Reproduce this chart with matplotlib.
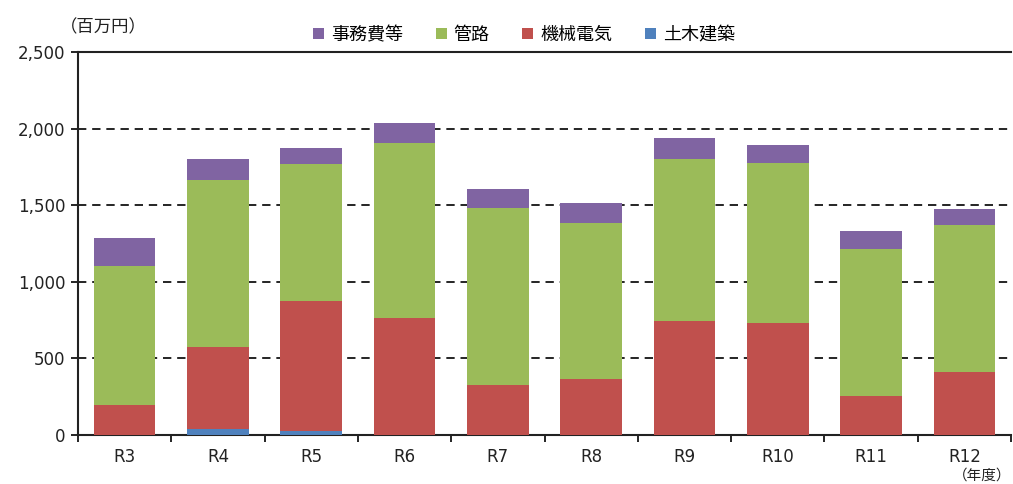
import matplotlib
matplotlib.use("Agg")
import matplotlib.pyplot as plt
import numpy as np

plt.rcParams['font.family'] = ['DejaVu Sans', 'Noto Sans CJK JP']

years = ["R3", "R4", "R5", "R6", "R7", "R8", "R9", "R10", "R11", "R12"]
civil = [0, 40, 25, 0, 0, 0, 0, 0, 0, 0]                          # 土木建築
mech_elec = [196, 537, 850, 766, 324, 364, 746, 729, 255, 413]    # 機械電気
pipes = [907, 1088, 894, 1138, 1156, 1022, 1054, 1044, 959, 960]  # 管路
office = [185, 135, 106, 135, 126, 128, 137, 122, 117, 100]       # 事務費等
yticks = [0, 500, 1000, 1500, 2000, 2500]

series = [
    ("土木建築", civil, "#4F81BD"),
    ("機械電気", mech_elec, "#C0504D"),
    ("管路", pipes, "#9BBB59"),
    ("事務費等", office, "#8064A2"),
]

fig = plt.figure(figsize=(10.13, 4.84), dpi=100)
ax = fig.add_axes([78/1013, 1-435/484, (1011-78)/1013, (435-52)/484])

x = np.arange(len(years)) + 0.5
bottom = np.zeros(len(years))
handles = {}
for name, vals, color in series:
    v = np.array(vals, dtype=float)
    h = ax.bar(x, v, width=0.66, bottom=bottom, color=color, zorder=3, label=name)
    handles[name] = h
    bottom += v

ax.set_xlim(0, len(years))
ax.set_ylim(0, 2500)
ax.set_yticks(yticks)
ax.set_yticklabels([f"{t:,}" for t in yticks], fontsize=12, color="#222222")
for t in yticks[1:-1]:
    ax.axhline(t, color="black", linestyle=(0, (5, 3.5)), linewidth=1.2, zorder=1)

ax.set_xticks(x)
ax.set_xticklabels(years, fontsize=12, color="#222222")
ax.tick_params(axis="x", which="major", length=0, pad=9)
ax.set_xticks(np.arange(0, len(years) + 1), minor=True)
ax.tick_params(axis="x", which="minor", length=5, width=1.2, direction="out")
ax.tick_params(axis="y", length=5, width=1.2, direction="out", pad=4)

for s in ["left", "bottom", "top"]:
    ax.spines[s].set_color("#222222")
    ax.spines[s].set_linewidth(1.5)
ax.spines["right"].set_visible(False)

order = ["事務費等", "管路", "機械電気", "土木建築"]
leg = fig.legend([handles[n] for n in order], order, loc="center",
                 bbox_to_anchor=(524/1013, 1-35/484), ncol=4, frameon=False,
                 prop={'family': ['Noto Sans CJK JP'], 'size': 13},
                 handlelength=0.6, handleheight=0.6,
                 columnspacing=1.8, handletextpad=0.4)

fig.text(60/1013, 1-27/484, "（百万円）", fontsize=12.5, ha="left", va="center",
         color="#222222", family=['Noto Sans CJK JP'])
fig.text(1011/1013, 1.5/484, "（年度）", fontsize=10.5, ha="right", va="bottom",
         color="#222222", family=['Noto Sans CJK JP'])

fig.savefig("out.png", dpi=100)
